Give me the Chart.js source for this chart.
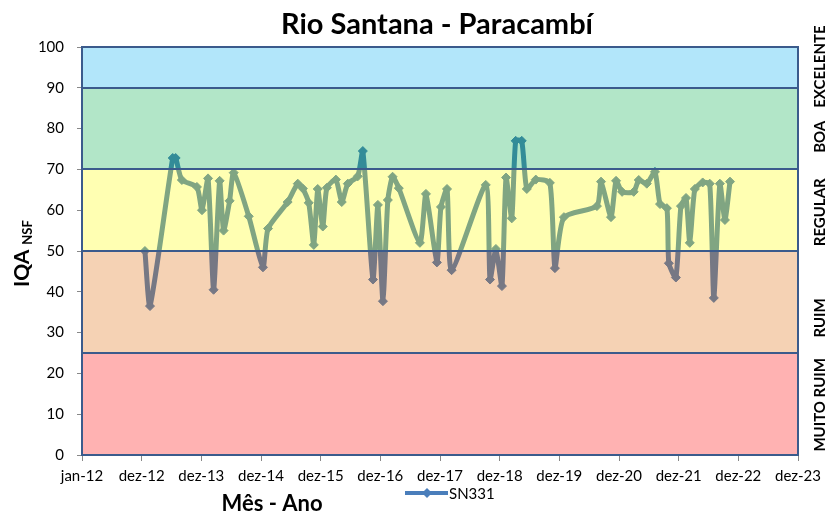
<!DOCTYPE html>
<html lang="pt">
<head>
    <meta charset="UTF-8">
    <title>Rio Santana - Paracambí</title>
    <script src="https://cdn.jsdelivr.net/npm/chart.js"></script>
    <style>
        html, body { margin: 0; padding: 0; background: #fff; }
        canvas { display: block; }
    </style>
</head>
<body>
    <canvas id="iqaChart" width="830" height="515"></canvas>

    <script>
        // datas de coleta e valores do IQA
        const sampleDates = [
            '2013-01-20', '2013-02-20', '2013-07-09', '2013-07-27', '2013-09-03', '2013-12-04',
            '2014-01-04', '2014-02-10', '2014-03-16', '2014-04-22', '2014-05-16', '2014-06-22',
            '2014-07-17', '2014-10-17', '2015-01-12', '2015-02-12', '2015-06-12', '2015-08-13',
            '2015-09-13', '2015-10-19', '2015-11-19', '2015-12-13', '2016-01-13', '2016-02-07',
            '2016-04-02', '2016-05-08', '2016-06-14', '2016-08-14', '2016-09-14', '2016-11-15',
            '2016-12-15', '2017-01-15', '2017-02-14', '2017-03-15', '2017-04-22', '2017-08-29',
            '2017-10-05', '2017-12-11', '2018-01-05', '2018-02-11', '2018-03-11', '2018-10-06',
            '2018-11-01', '2018-12-07', '2019-01-13', '2019-02-07', '2019-03-14', '2019-04-07',
            '2019-05-14', '2019-06-14', '2019-08-08', '2019-11-02', '2019-12-03', '2020-01-27',
            '2020-08-16', '2020-09-10', '2020-11-10', '2020-12-11', '2021-01-17', '2021-03-29',
            '2021-04-29', '2021-06-17', '2021-08-06', '2021-09-06', '2021-10-18', '2021-10-30',
            '2021-12-12', '2022-01-12', '2022-02-12', '2022-03-07', '2022-04-07', '2022-05-25',
            '2022-07-07', '2022-08-01', '2022-09-07', '2022-10-08', '2022-11-08'
        ];
        const iqaValues = [
            50, 36.5, 72.8, 72.8, 67.4, 65.7,
            60, 67.8, 40.5, 67.2, 55, 62.3,
            69.2, 58.5, 46, 55.5, 62, 66.5,
            65.3, 61.8, 51.5, 65.2, 56, 65.5,
            67.5, 62, 66.5, 68.3, 74.5, 43,
            61.3, 37.7, 62.5, 68.2, 65.4, 52,
            64, 47.2, 60.8, 65.2, 45.3, 66.2,
            43, 50.5, 41.4, 68, 58, 77,
            77, 65.2, 67.5, 66.7, 45.8, 58.3,
            61, 67, 58.3, 67.2, 64.5, 64.5,
            67.4, 66.5, 69.4, 61.5, 60.5, 47,
            43.5, 61, 63, 52, 65.2, 66.8,
            66.5, 38.5, 66.5, 57.6, 67
        ];
        const seriesName = 'SN331';

        const xTickLabels = ['jan-12', 'dez-12', 'dez-13', 'dez-14', 'dez-15', 'dez-16', 'dez-17',
                             'dez-18', 'dez-19', 'dez-20', 'dez-21', 'dez-22', 'dez-23'];
        const bandLimits = [0, 25, 50, 70, 90, 100];
        const bandNames = ['MUITO RUIM', 'RUIM', 'REGULAR', 'BOA', 'EXCELENTE'];

        // faixas semi-transparentes por cima da linha (como no Excel)
        const bandColors = ['rgba(255,0,0,0.3)', 'rgba(222,105,5,0.3)', 'rgba(255,255,0,0.3)',
                            'rgba(0,172,72,0.3)', 'rgba(0,172,238,0.3)'];
        const bandLabelAt = [12.3, 33.6, 59.5, 78, 95.2]; // centro vertical do texto
        const lineBlue = '#4A7EBB';
        const frameBlue = '#3B5B8C';
        const FONT = 'Lato, "Open Sans", sans-serif';

        function dayOffset(s) {
            const [y, m, d] = s.split('-').map(Number);
            return (Date.UTC(y, m - 1, d) - Date.UTC(2012, 0, 1)) / 86400000;
        }

        const points = sampleDates.map((d, i) => ({ x: dayOffset(d), y: iqaValues[i] }));

        const bandPlugin = {
            id: 'bands',
            afterDatasetsDraw(chart) {
                const { ctx, chartArea: a, scales: { y } } = chart;
                ctx.save();
                for (let i = 0; i < bandLimits.length - 1; i++) {
                    const top = y.getPixelForValue(bandLimits[i + 1]);
                    const bot = y.getPixelForValue(bandLimits[i]);
                    ctx.fillStyle = bandColors[i];
                    ctx.fillRect(a.left, top, a.right - a.left, bot - top);
                }
                ctx.strokeStyle = frameBlue;
                ctx.lineWidth = 2;
                for (let i = 1; i < bandLimits.length - 1; i++) {
                    const py = Math.round(y.getPixelForValue(bandLimits[i]));
                    ctx.beginPath();
                    ctx.moveTo(a.left, py);
                    ctx.lineTo(a.right, py);
                    ctx.stroke();
                }
                ctx.strokeRect(a.left, a.top, a.right - a.left, a.bottom - a.top);
                ctx.restore();
            },
            afterDraw(chart) {
                const { ctx, scales: { y } } = chart;
                ctx.save();
                ctx.fillStyle = '#000';

                // titulo
                ctx.font = 'bold 29px ' + FONT;
                ctx.textAlign = 'center';
                ctx.textBaseline = 'middle';
                ctx.fillText('Rio Santana - Paracambí', 437, 25);

                // nomes das faixas, à direita
                ctx.font = 'bold 15px ' + FONT;
                bandNames.forEach((name, i) => {
                    ctx.save();
                    ctx.translate(820, y.getPixelForValue(bandLabelAt[i]));
                    ctx.rotate(-Math.PI / 2);
                    ctx.fillText(name, 0, 0);
                    ctx.restore();
                });

                // titulo eixo y com subscrito
                ctx.save();
                ctx.translate(29, 287);
                ctx.rotate(-Math.PI / 2);
                ctx.textAlign = 'left';
                ctx.textBaseline = 'alphabetic';
                ctx.font = 'bold 21px ' + FONT;
                ctx.fillText('IQA', 0, 0);
                const w = ctx.measureText('IQA').width;
                ctx.font = 'bold 13px ' + FONT;
                ctx.fillText('NSF', w + 5, 3);
                ctx.restore();

                // titulo eixo x
                ctx.font = 'bold 22px ' + FONT;
                ctx.textAlign = 'center';
                ctx.textBaseline = 'middle';
                ctx.fillText('Mês - Ano', 272, 504);

                // legenda
                ctx.strokeStyle = lineBlue;
                ctx.lineWidth = 4;
                ctx.beginPath();
                ctx.moveTo(405, 493);
                ctx.lineTo(448, 493);
                ctx.stroke();
                ctx.fillStyle = lineBlue;
                ctx.beginPath();
                ctx.moveTo(427, 488);
                ctx.lineTo(432, 493);
                ctx.lineTo(427, 498);
                ctx.lineTo(422, 493);
                ctx.closePath();
                ctx.fill();
                ctx.fillStyle = '#000';
                ctx.font = '15px ' + FONT;
                ctx.textAlign = 'left';
                ctx.fillText(seriesName, 449, 494);
                ctx.restore();
            }
        };

        new Chart(document.getElementById('iqaChart'), {
            type: 'line',
            data: {
                datasets: [{
                    label: seriesName,
                    data: points,
                    borderColor: lineBlue,
                    backgroundColor: lineBlue,
                    borderWidth: 5,
                    pointStyle: 'rectRot',
                    pointRadius: 4.5,
                    pointBorderWidth: 1,
                    tension: 0.2,
                    fill: false
                }]
            },
            options: {
                responsive: false,
                animation: false,
                events: [],
                layout: { padding: { top: 47, left: 0, right: 32, bottom: 0 } },
                plugins: {
                    legend: { display: false },
                    tooltip: { enabled: false },
                    title: { display: false }
                },
                scales: {
                    x: {
                        type: 'linear',
                        min: 0,
                        max: 4380,
                        afterFit: s => { s.height = 60; },
                        border: { display: false },
                        grid: { drawOnChartArea: false, color: '#888', tickLength: 6 },
                        ticks: {
                            stepSize: 365,
                            autoSkip: false,
                            maxRotation: 0,
                            padding: 6,
                            color: '#000',
                            font: { family: FONT, size: 15 },
                            callback: (v, i) => xTickLabels[i]
                        }
                    },
                    y: {
                        min: 0,
                        max: 100,
                        afterFit: s => { s.width = 82; },
                        border: { display: false },
                        grid: { drawOnChartArea: false, color: '#888', tickLength: 5 },
                        ticks: {
                            stepSize: 10,
                            padding: 13,
                            color: '#000',
                            font: { family: FONT, size: 15 }
                        }
                    }
                }
            },
            plugins: [bandPlugin]
        });
    </script>
</body>
</html>
